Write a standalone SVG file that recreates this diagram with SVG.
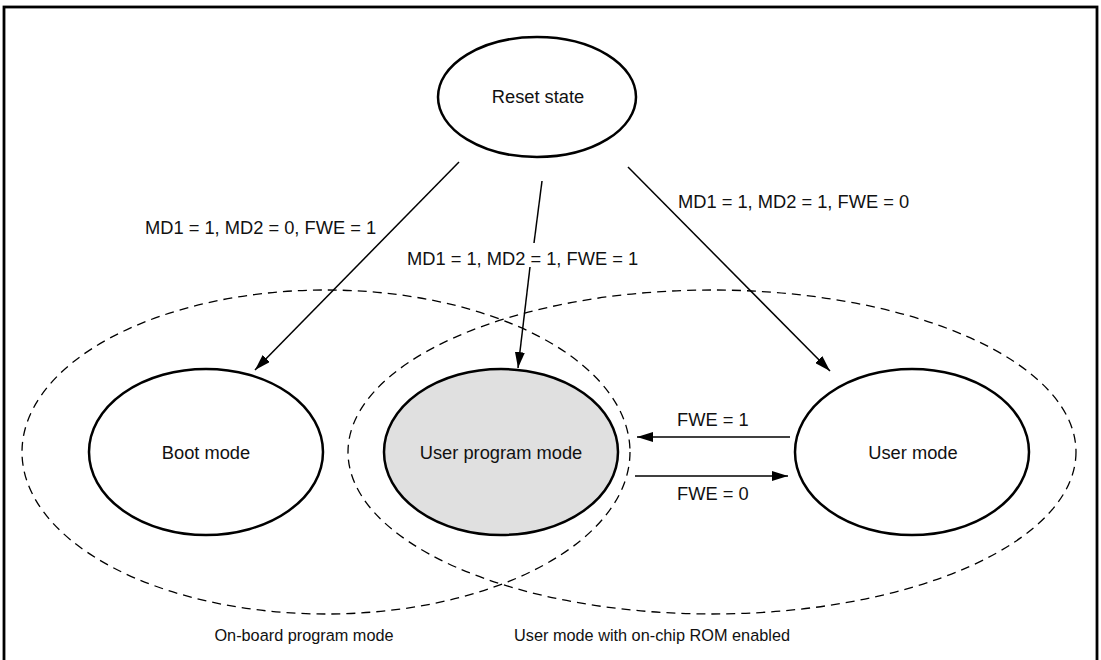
<svg xmlns="http://www.w3.org/2000/svg" width="1101" height="660" viewBox="0 0 1101 660">
<defs>
<marker id="ah" viewBox="0 0 16 10" refX="16" refY="5" markerWidth="16" markerHeight="10" markerUnits="userSpaceOnUse" orient="auto">
<path d="M0,0 L16,5 L0,10 Z" fill="#000"/>
</marker>
</defs>
<style>
.t{font-family:"Liberation Sans",Arial,sans-serif;font-size:18.3px;fill:#111;text-anchor:middle}
.b{font-family:"Liberation Sans",Arial,sans-serif;font-size:16.3px;fill:#111;text-anchor:middle}
.tl{font-family:"Liberation Sans",Arial,sans-serif;font-size:18.3px;fill:#111}
.st{fill:#fff;stroke:#000;stroke-width:2.5}
.dash{fill:none;stroke:#000;stroke-width:1.3;stroke-dasharray:9,6}
.c{stroke:#000;stroke-width:1.5;fill:none}
</style>
<rect x="4" y="7" width="1093" height="660" fill="#fff" stroke="#000" stroke-width="2.8"/>
<g id="group-onboard">
<ellipse class="dash" cx="326" cy="452" rx="304" ry="162"/>
<text class="b" x="304" y="641">On-board program mode</text>
</g>
<g id="group-usermode-rom">
<ellipse class="dash" cx="712" cy="452" rx="364" ry="162"/>
<text class="b" x="652" y="641">User mode with on-chip ROM enabled</text>
</g>
<g id="reset">
<ellipse class="st" cx="537" cy="97" rx="99" ry="60"/>
<text class="t" x="538" y="103">Reset state</text>
</g>
<g id="boot">
<ellipse class="st" cx="206" cy="452" rx="117" ry="83"/>
<text class="t" x="206" y="459">Boot mode</text>
</g>
<g id="userprog">
<ellipse class="st" cx="501" cy="452" rx="117" ry="83" style="fill:#e0e0e0"/>
<text class="t" x="501" y="459">User program mode</text>
</g>
<g id="user">
<ellipse class="st" cx="912" cy="452" rx="117" ry="83"/>
<text class="t" x="913" y="459">User mode</text>
</g>
<g id="connectors">
<line class="c" x1="459" y1="162" x2="255" y2="370" marker-end="url(#ah)"/>
<line class="c" x1="542" y1="181" x2="534" y2="243"/>
<line class="c" x1="530" y1="267" x2="518" y2="368" marker-end="url(#ah)"/>
<line class="c" x1="628" y1="167" x2="830" y2="371" marker-end="url(#ah)"/>
<line class="c" x1="790" y1="437" x2="637" y2="437" marker-end="url(#ah)"/>
<line class="c" x1="635" y1="476" x2="788" y2="476" marker-end="url(#ah)"/>
<text class="tl" x="145" y="234">MD1 = 1, MD2 = 0, FWE = 1</text>
<text class="tl" x="407" y="265">MD1 = 1, MD2 = 1, FWE = 1</text>
<text class="tl" x="678" y="208">MD1 = 1, MD2 = 1, FWE = 0</text>
<text class="tl" x="677" y="426">FWE = 1</text>
<text class="tl" x="677" y="500">FWE = 0</text>
</g>
</svg>
